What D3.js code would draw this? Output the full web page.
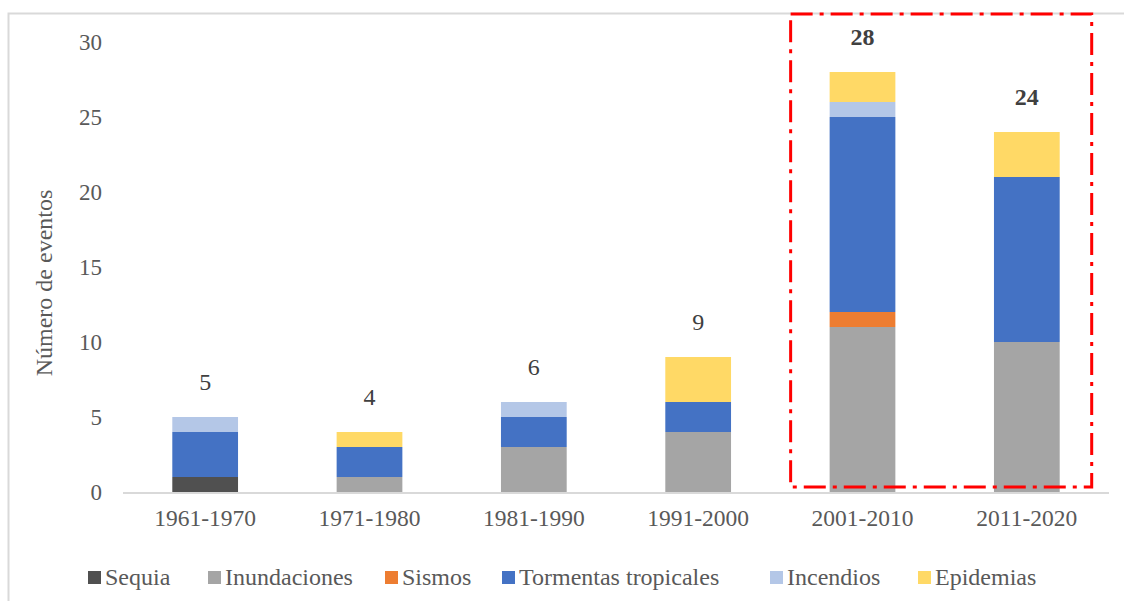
<!DOCTYPE html>
<html>
<head>
<meta charset="utf-8">
<script src="https://cdn.jsdelivr.net/npm/d3@7"></script>
<style>
  body { margin: 0; background: #fff; }
  text { font-family: "Liberation Serif", "Times New Roman", serif; }
</style>
</head>
<body>
<div id="chart"></div>
<script>
// data
var decades = ["1961-1970", "1971-1980", "1981-1990", "1991-2000", "2001-2010", "2011-2020"];
var seriesNames = ["Sequia", "Inundaciones", "Sismos", "Tormentas tropicales", "Incendios", "Epidemias"];
var sequia       = [1, 0, 0, 0, 0, 0];
var inundaciones = [0, 1, 3, 4, 11, 10];
var sismos       = [0, 0, 0, 0, 1, 0];
var tormentas    = [3, 2, 2, 2, 13, 11];
var incendios    = [1, 0, 1, 0, 1, 0];
var epidemias    = [0, 1, 0, 3, 2, 3];
var yTicks = [0, 5, 10, 15, 20, 25, 30];
var boldTotals = ["2001-2010", "2011-2020"];

var colors = ["#505050", "#a5a5a5", "#ed7d31", "#4472c4", "#b4c7e7", "#ffd966"];

var W = 1124, H = 601;
var margin = {top: 42, right: 15, bottom: 109, left: 123};

var svg = d3.select("#chart").append("svg")
    .attr("width", W)
    .attr("height", H);

// chart area border
svg.append("rect")
    .attr("x", 8.5).attr("y", 13.5)
    .attr("width", W + 20).attr("height", H + 20)
    .attr("fill", "#fff")
    .attr("stroke", "#d9d9d9")
    .attr("stroke-width", 2);

var table = decades.map(function(d, i) {
    return {
        decade: d,
        "Sequia": sequia[i],
        "Inundaciones": inundaciones[i],
        "Sismos": sismos[i],
        "Tormentas tropicales": tormentas[i],
        "Incendios": incendios[i],
        "Epidemias": epidemias[i]
    };
});

var x = d3.scaleBand()
    .domain(decades)
    .range([margin.left, W - margin.right])
    .paddingInner(0.6)
    .paddingOuter(0.3);

var y = d3.scaleLinear()
    .domain([0, 30])
    .range([H - margin.bottom, margin.top]);

var color = d3.scaleOrdinal().domain(seriesNames).range(colors);

// y tick labels (no axis line)
var yAxis = svg.append("g")
    .attr("transform", "translate(" + (margin.left - 8) + ",0)")
    .call(d3.axisLeft(y).tickValues(yTicks).tickSize(0).tickPadding(13));
yAxis.select(".domain").remove();
yAxis.selectAll("text")
    .attr("fill", "#595959")
    .style("font-size", "23px")
    .style("font-family", "Liberation Serif, serif");

// stacked bars
var stacked = d3.stack().keys(seriesNames)(table);

svg.append("g")
  .selectAll("g")
  .data(stacked)
  .enter().append("g")
    .attr("fill", function(d) { return color(d.key); })
  .selectAll("rect")
  .data(function(d) { return d; })
  .enter().append("rect")
    .attr("x", function(d) { return x(d.data.decade); })
    .attr("y", function(d) { return y(d[1]); })
    .attr("height", function(d) { return y(d[0]) - y(d[1]); })
    .attr("width", x.bandwidth());

// baseline
svg.append("line")
    .attr("x1", margin.left).attr("x2", W - margin.right)
    .attr("y1", y(0) + 1).attr("y2", y(0) + 1)
    .attr("stroke", "#d9d9d9")
    .attr("stroke-width", 2);

// x labels
var xAxis = svg.append("g")
    .attr("transform", "translate(0," + y(0) + ")")
    .call(d3.axisBottom(x).tickSize(0).tickPadding(17));
xAxis.select(".domain").remove();
xAxis.selectAll("text")
    .attr("fill", "#595959")
    .style("font-size", "23.5px")
    .style("font-family", "Liberation Serif, serif");

// totals above bars
svg.append("g")
  .selectAll("text")
  .data(table)
  .enter().append("text")
    .attr("x", function(d) { return x(d.decade) + x.bandwidth() / 2; })
    .attr("y", function(d) {
        var t = d3.sum(seriesNames, function(k) { return d[k]; });
        return y(t) - 27;
    })
    .attr("text-anchor", "middle")
    .attr("fill", "#404040")
    .style("font-size", "24px")
    .style("font-weight", function(d) { return boldTotals.indexOf(d.decade) >= 0 ? "bold" : "normal"; })
    .text(function(d) { return d3.sum(seriesNames, function(k) { return d[k]; }); });

// y axis title
svg.append("text")
    .attr("transform", "translate(52,283) rotate(-90)")
    .attr("text-anchor", "middle")
    .attr("fill", "#595959")
    .style("font-size", "24px")
    .text("Número de eventos");

// highlight box round the last two decades
var boxX0 = x("2001-2010") - 39, boxX1 = x("2011-2020") + x.bandwidth() + 32;
svg.append("rect")
    .attr("x", boxX0).attr("y", 14)
    .attr("width", boxX1 - boxX0)
    .attr("height", y(0) - 5 - 14)
    .attr("fill", "none")
    .attr("stroke", "#ff0000")
    .attr("stroke-width", 3)
    .attr("stroke-dasharray", "22,7,4,7");

// legend
var legendX = [88, 208, 385, 502, 770, 918];
var legend = svg.append("g").selectAll("g")
    .data(seriesNames)
    .enter().append("g")
    .attr("transform", function(d, i) { return "translate(" + legendX[i] + ",571)"; });
legend.append("rect")
    .attr("width", 13).attr("height", 13)
    .attr("fill", function(d) { return color(d); });
legend.append("text")
    .attr("x", 17).attr("y", 14)
    .attr("fill", "#595959")
    .style("font-size", "24px")
    .text(function(d) { return d; });
</script>
</body>
</html>
